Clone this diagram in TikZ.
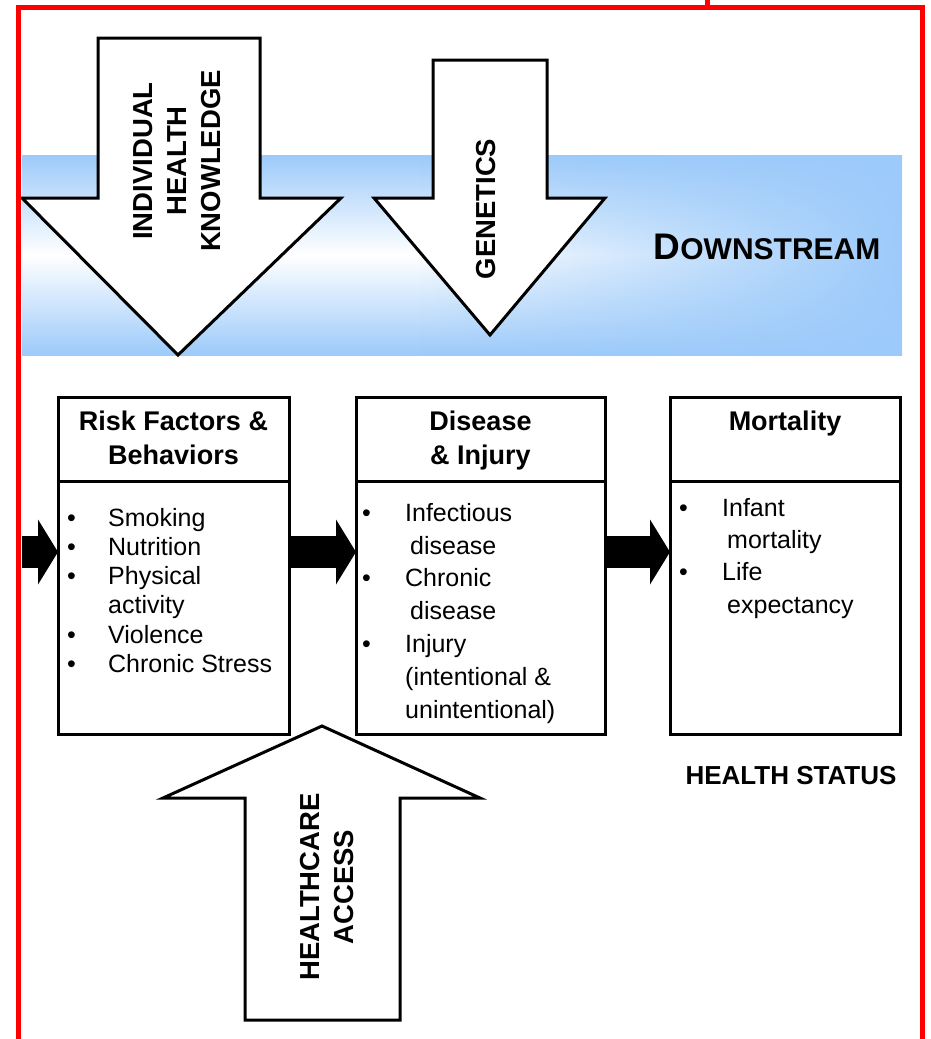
\documentclass[tikz,border=0pt]{standalone}
\usepackage{fontspec}
\setmainfont{Liberation Sans}
\usepackage{tikz}
\usetikzlibrary{shapes,arrows.meta,positioning,fadings}
\definecolor{bandblue}{RGB}{156,202,250}
\definecolor{framered}{RGB}{255,0,0}
\tikzfading[name=bluefade, left color=transparent!100, right color=transparent!0]
\tikzstyle{panel} = [rectangle, draw, line width=3pt, minimum height=337pt, inner sep=0pt, outer sep=0pt]
\tikzstyle{head} = [align=center, anchor=north, inner sep=0pt, font=\fontsize{27}{34}\selectfont\bfseries]
\tikzstyle{items} = [align=left, anchor=north west, inner sep=0pt]
\tikzstyle{bigarrow} = [draw, fill=white, line width=3pt, line join=miter]
\tikzstyle{vlabel} = [rotate=90, align=center, inner sep=0pt, font=\fontsize{27.5}{34}\selectfont\bfseries]
\tikzstyle{flow} = [draw, line width=32pt, -{Triangle[length=20pt, width=65pt, line width=0pt]}]
\newcommand{\bul}[1]{\makebox[#1][l]{\textbullet}}

\begin{document}
\begin{tikzpicture}[x=1pt, y=-1pt, node distance=66pt]
    \useasboundingbox (0,0) rectangle (930,1039);
    \shade [top color=bandblue, bottom color=bandblue, middle color=white] (22,155) rectangle (902,355);
    \fill [bandblue, path fading=bluefade] (420,155) rectangle (902,355);
    \node [font=\bfseries] (downstream) at (767,247) {{\fontsize{37}{40}\selectfont D}{\fontsize{30}{36}\selectfont OWNSTREAM}};

    \path [bigarrow] (98,38) -- (260,38) -- (260,198) -- (341,198) -- (178,355) -- (22,198) -- (98,198) -- cycle;
    \node [vlabel] (knowledge) at (177,161) {INDIVIDUAL\\HEALTH\\KNOWLEDGE};
    \path [bigarrow] (433,60) -- (547,60) -- (547,198) -- (605,198) -- (490,335) -- (374,198) -- (433,198) -- cycle;
    \node [vlabel] (genetics) at (486,209) {GENETICS};

    \node [panel, minimum width=231pt] (risk) at (173.5,565.5) {};
    \node [panel, minimum width=249pt, right=67pt of risk] (disease) {};
    \node [panel, minimum width=230pt, right=65pt of disease] (mortality) {};
    \draw [line width=3pt] (risk.west |- 0,481) -- (risk.east |- 0,481);
    \draw [line width=3pt] (disease.west |- 0,481) -- (disease.east |- 0,481);
    \draw [line width=3pt] (mortality.west |- 0,481) -- (mortality.east |- 0,481);

    \node [head] (riskhead) at ([yshift=-14pt]risk.north) {Risk Factors \&\\Behaviors};
    \node [head] (diseasehead) at ([yshift=-14pt]disease.north) {Disease\\\& Injury};
    \node [head] (mortalityhead) at ([yshift=-14pt]mortality.north) {Mortality};

    \node [items, font=\fontsize{25}{29.2}\selectfont] (risklist) at (67,508) {\bul{41pt}Smoking\\\bul{41pt}Nutrition\\\bul{41pt}Physical\\\hspace*{41pt}activity\\\bul{41pt}Violence\\\bul{41pt}Chronic Stress};
    \node [items, font=\fontsize{25}{32.8}\selectfont] (diseaselist) at (362,503) {\bul{43pt}Infectious\\\hspace*{48pt}disease\\\bul{43pt}Chronic\\\hspace*{48pt}disease\\\bul{43pt}Injury\\\hspace*{43pt}(intentional \&\\\hspace*{43pt}unintentional)};
    \node [items, font=\fontsize{25}{32.3}\selectfont] (mortalitylist) at (679,498) {\bul{43pt}Infant\\\hspace*{48pt}mortality\\\bul{43pt}Life\\\hspace*{48pt}expectancy};
    \node [font=\fontsize{26}{30}\selectfont\bfseries, inner sep=0pt, below=32pt of mortality, xshift=6pt] (status) {HEALTH STATUS};

    \coordinate (in) at (22,552);
    \path [flow] (in) -- (in -| risk.west);
    \path [flow] (risk.east |- in) -- (disease.west |- in);
    \path [flow] (disease.east |- in) -- (mortality.west |- in);

    \path [bigarrow] (245,1020) -- (400,1020) -- (400,798) -- (480,798) -- (322,726) -- (163,798) -- (245,798) -- cycle;
    \node [vlabel] (access) at (327,887) {HEALTHCARE\\ACCESS};

    \draw [framered, line width=5pt] (18,7) rectangle (922,1045);
    \coordinate (tick) at (707,0);
    \draw [framered, line width=5pt] (tick) -- (tick |- 0,7);
\end{tikzpicture}
\end{document}
